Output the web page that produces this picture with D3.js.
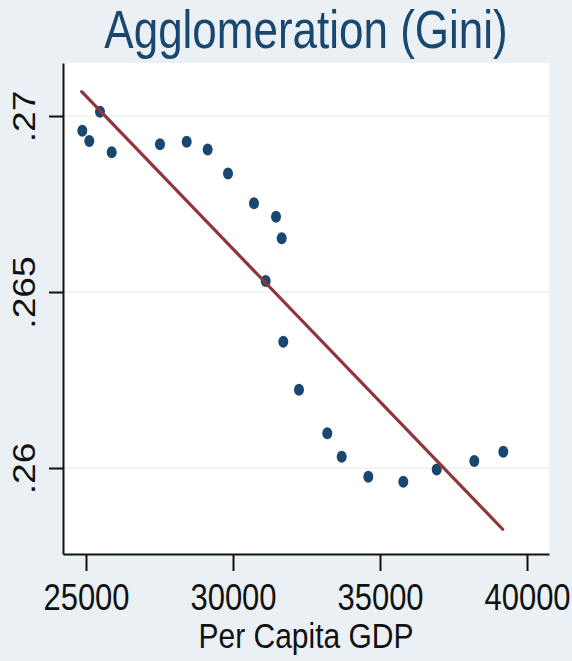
<!DOCTYPE html>
<html>
<head>
<meta charset="utf-8">
<script src="https://cdn.jsdelivr.net/npm/d3@7"></script>
<style>
  html, body { margin: 0; padding: 0; background: #eaf0f3; }
  svg { display: block; font-family: "Liberation Sans", Arial, sans-serif; }
</style>
</head>
<body>
<div id="container"></div>
<script>
// per capita GDP (x) and agglomeration Gini (y)
const gdp = [24874, 25112, 25476, 25874, 27517, 28425, 29139, 29830, 30714, 31463, 31656,
  31112, 31711, 32245, 33207, 33697, 34602, 35793, 36929, 38207, 39194];
const gini = [0.26958, 0.26929, 0.27012, 0.26897, 0.26920, 0.26927, 0.26905, 0.26837, 0.26752, 0.26714, 0.26653,
  0.26531, 0.26359, 0.26222, 0.26099, 0.26032, 0.25975, 0.25961, 0.25996, 0.26020, 0.26046];

// fitted line end points
const fitX = [24854, 39173];
const fitY = [0.27069, 0.25826];

const xTicks = [25000, 30000, 35000, 40000];
const yTicks = [0.26, 0.265, 0.27];
const yTickLabels = ['.26', '.265', '.27'];

const title = 'Agglomeration (Gini)';
const xTitle = 'Per Capita GDP';

const width = 572;
const height = 661;
const margin = { top: 63, right: 23, bottom: 107, left: 63 };
const stretch = 1.2; // the picture is a bit taller than it is wide

const NAVY = '#1a476f';
const MAROON = '#90353b';
const BG = '#eaf0f3';

const svg = d3.select('#container')
  .append('svg')
  .attr('width', width)
  .attr('height', height);

svg.append('rect')
  .attr('width', width)
  .attr('height', height)
  .attr('fill', BG);

const x = d3.scaleLinear()
  .domain([24218, 40748])
  .range([margin.left, width - margin.right]);

const y = d3.scaleLinear()
  .domain([0.257557, 0.271506])
  .range([height - margin.bottom, margin.top]);

// plot region
svg.append('rect')
  .attr('x', margin.left)
  .attr('y', margin.top)
  .attr('width', width - margin.left - margin.right)
  .attr('height', height - margin.top - margin.bottom)
  .attr('fill', '#fff');

// horizontal grid
svg.append('g')
  .selectAll('line')
  .data(yTicks)
  .join('line')
  .attr('x1', margin.left)
  .attr('x2', width - margin.right)
  .attr('y1', d => y(d))
  .attr('y2', d => y(d))
  .attr('stroke', BG)
  .attr('stroke-width', 1.5);

// points
const points = gdp.map((g, i) => ({ x: g, y: gini[i] }));
svg.append('g')
  .selectAll('ellipse')
  .data(points)
  .join('ellipse')
  .attr('cx', d => x(d.x))
  .attr('cy', d => y(d.y))
  .attr('rx', 5)
  .attr('ry', 6)
  .attr('fill', NAVY);

// fitted line
svg.append('path')
  .datum(fitX.map((v, i) => [v, fitY[i]]))
  .attr('fill', 'none')
  .attr('stroke', MAROON)
  .attr('stroke-width', 3.2)
  .attr('stroke-linecap', 'round')
  .attr('d', d3.line().x(d => x(d[0])).y(d => y(d[1])));

// axes
const xAxis = svg.append('g')
  .attr('transform', `translate(0,${height - margin.bottom})`)
  .call(d3.axisBottom(x).tickValues(xTicks).tickSize(17).tickSizeOuter(0).tickFormat(d3.format('d')));

const yAxis = svg.append('g')
  .attr('transform', `translate(${margin.left},0)`)
  .call(d3.axisLeft(y).tickValues(yTicks).tickSize(14).tickSizeOuter(0)
    .tickFormat((d, i) => yTickLabels[i]));

[xAxis, yAxis].forEach(a => {
  a.select('.domain').attr('stroke', '#111').attr('stroke-width', 2);
  a.selectAll('.tick line').attr('stroke', '#111').attr('stroke-width', 2);
  a.selectAll('.tick text')
    .attr('fill', '#111')
    .attr('font-size', 31)
    .attr('x', null)
    .attr('y', null)
    .attr('dy', null)
    .attr('text-anchor', 'middle');
});

xAxis.selectAll('.tick text')
  .attr('transform', `translate(0,56) scale(1,${stretch})`);

yAxis.selectAll('.tick text')
  .attr('transform', `scale(1,${stretch}) rotate(-90)`)
  .attr('y', -28);

// titles
svg.append('text')
  .attr('transform', `translate(${(margin.left + width - margin.right) / 2},48) scale(1,${stretch})`)
  .attr('text-anchor', 'middle')
  .attr('font-size', 44)
  .attr('fill', NAVY)
  .text(title);

svg.append('text')
  .attr('transform', `translate(${(margin.left + width - margin.right) / 2},648) scale(1,1.15)`)
  .attr('text-anchor', 'middle')
  .attr('font-size', 30)
  .attr('fill', '#111')
  .text(xTitle);
</script>
</body>
</html>
